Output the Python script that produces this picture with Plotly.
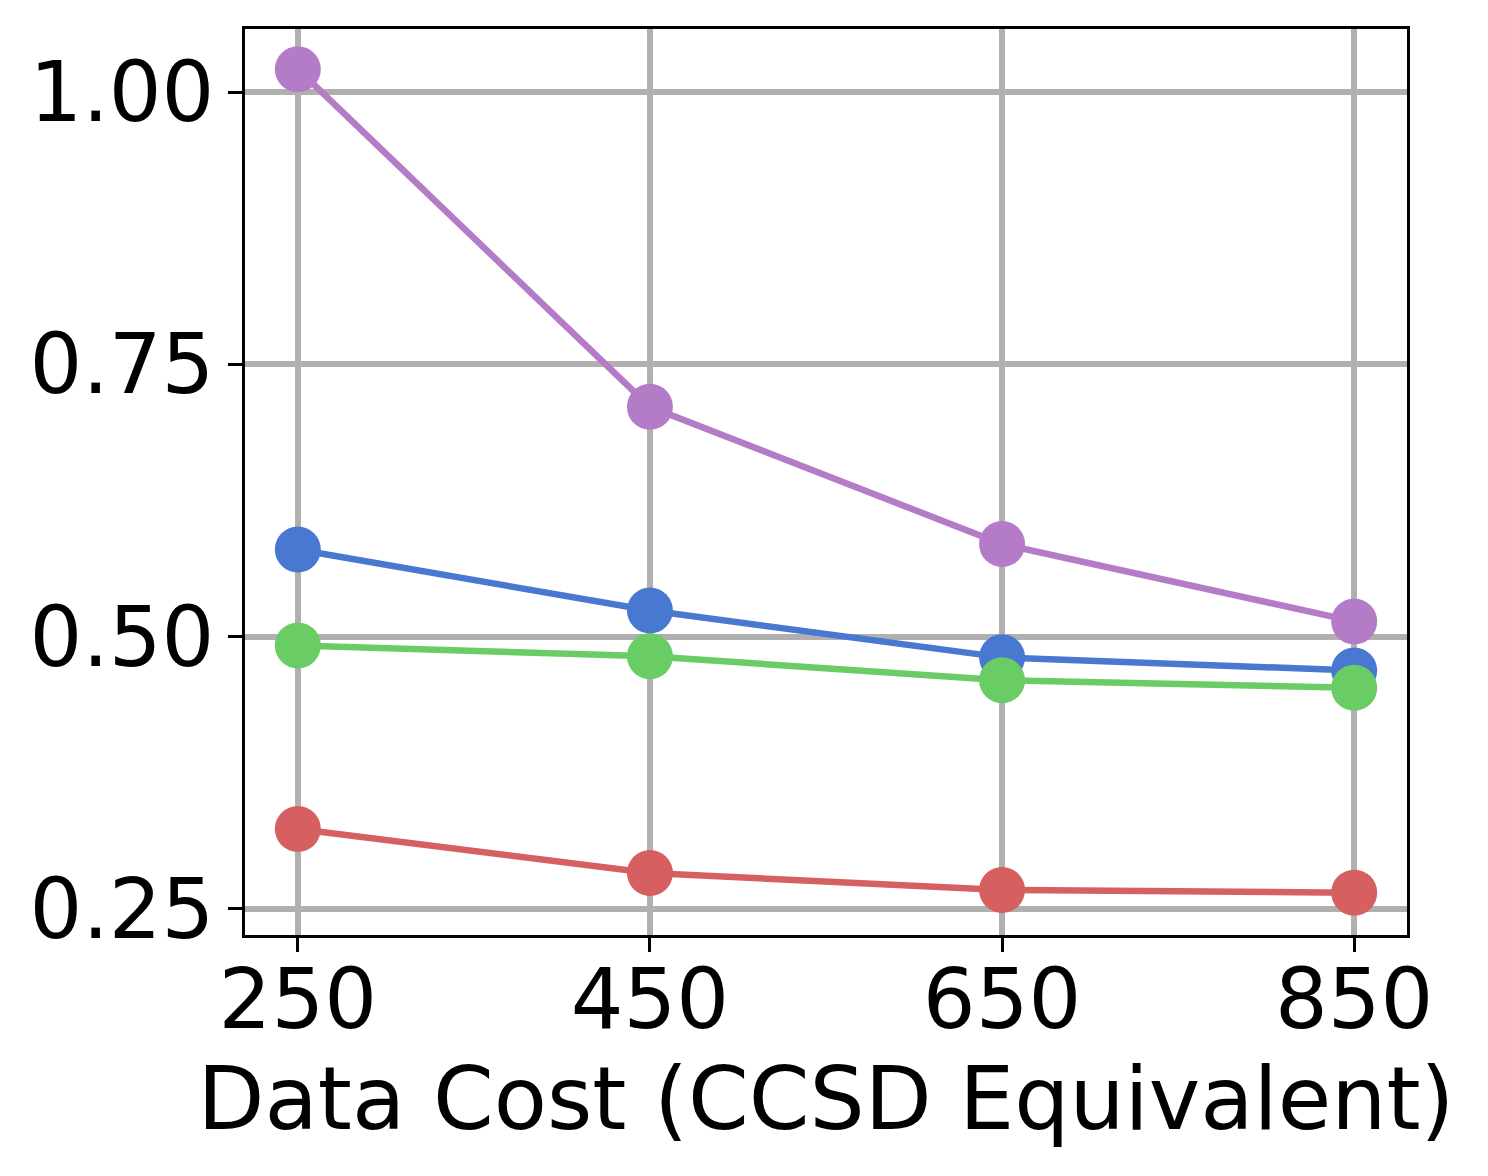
import plotly.graph_objects as go

costs = [250, 450, 650, 850]
series_purple = [1.021, 0.711, 0.585, 0.514]
series_blue = [0.580, 0.524, 0.481, 0.469]
series_green = [0.492, 0.482, 0.460, 0.453]
series_red = [0.3235, 0.283, 0.2675, 0.265]
y_ticks = [0.25, 0.50, 0.75, 1.00]
x_ticks = [250, 450, 650, 850]

series = [
    ("Series A", series_purple, "#B47CC7"),
    ("Series B", series_blue, "#4878CF"),
    ("Series C", series_green, "#6ACC65"),
    ("Series D", series_red, "#D65F5F"),
]

fig = go.Figure()
for name, vals, col in series:
    fig.add_trace(go.Scatter(
        x=costs, y=vals, name=name, mode="lines+markers",
        line=dict(color=col, width=6.5),
        marker=dict(color=col, size=46),
        showlegend=False,
    ))

font = dict(family="DejaVu Sans", size=83, color="black")
title_font = dict(family="DejaVu Sans", size=87, color="black")
fig.update_layout(
    width=1488, height=1176,
    margin=dict(l=245, r=81, t=29, b=241),
    paper_bgcolor="white", plot_bgcolor="white",
    font=font,
)
fig.update_xaxes(
    range=[220, 880], tickvals=x_ticks, ticktext=[str(v) for v in x_ticks],
    showgrid=True, gridcolor="#b0b0b0", gridwidth=6,
    showline=True, linecolor="black", linewidth=3, mirror=True,
    ticks="outside", ticklen=14, tickwidth=3, tickcolor="black",
    zeroline=False, tickfont=font, automargin=False, ticklabelstandoff=-24,
    title=dict(text="Data Cost (CCSD Equivalent)", font=title_font, standoff=9),
)
fig.update_yaxes(
    range=[0.2261, 1.0579], tickvals=y_ticks, tickformat=".2f",
    showgrid=True, gridcolor="#b0b0b0", gridwidth=6,
    showline=True, linecolor="black", linewidth=3, mirror=True,
    ticks="outside", ticklen=14, tickwidth=3, tickcolor="black",
    zeroline=False, tickfont=font, automargin=False, ticklabelstandoff=-3,
)
fig.write_html(
    "out.html",
    config={"displayModeBar": False},
    post_script="document.body.style.margin='0';document.body.style.overflow='hidden';",
)
